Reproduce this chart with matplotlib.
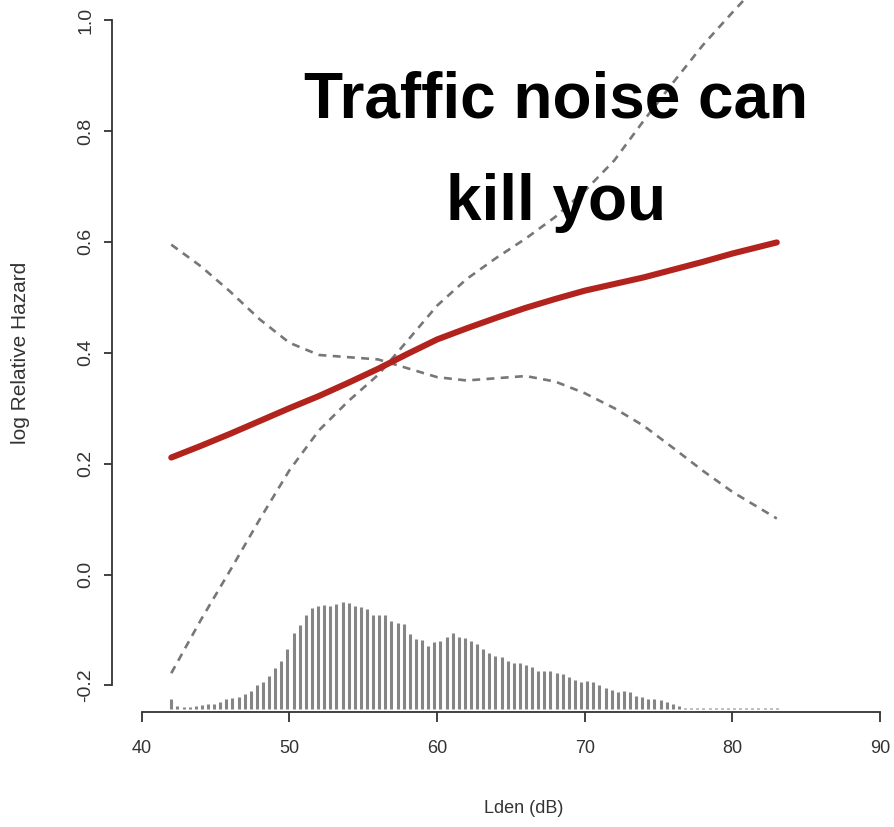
#Spline fit of log relative hazard vs road traffic noise, with spike histogram
import numpy as np
import matplotlib.pyplot as plt

plt.rcParams['font.family'] = ['Liberation Sans', 'DejaVu Sans']

#curve values read at these noise levels (dB)
lden = [42, 44, 46, 48, 50, 52, 54, 56, 58, 60, 62, 64, 66, 68, 70, 72, 74, 76, 78, 80, 83]
log_hr = [0.211, 0.232, 0.254, 0.277, 0.300, 0.322, 0.346, 0.371, 0.398, 0.424, 0.444,
          0.463, 0.481, 0.497, 0.512, 0.524, 0.536, 0.550, 0.564, 0.579, 0.599]
upper_ci = [-0.178, -0.082, 0.008, 0.100, 0.188, 0.260, 0.313, 0.360, 0.422, 0.485, 0.533,
            0.571, 0.606, 0.645, 0.692, 0.747, 0.819, 0.888, 0.955, 1.014, 1.10]
lower_ci = [0.595, 0.556, 0.510, 0.460, 0.418, 0.396, 0.392, 0.388, 0.372, 0.356, 0.350,
            0.354, 0.358, 0.348, 0.327, 0.300, 0.268, 0.228, 0.187, 0.149, 0.101]

#spike histogram of exposure, 100 bins from 42 to 83 dB (relative counts)
spike_lo, spike_hi = 42, 83
spike_counts = [10, 3, 2, 2.5, 3, 4, 5, 5, 7, 10,
                11, 12, 15, 18, 24, 27, 33, 41, 48, 60,
                76, 84, 94, 101, 103, 104, 103, 105, 107, 106,
                103, 102, 100, 94, 94, 94, 88, 86, 85, 75,
                70, 69, 63, 67, 68, 72, 76, 72, 71, 68,
                65, 60, 56, 53, 52, 48, 46, 46, 44, 42,
                38, 38, 38, 36, 35, 32, 29, 27, 28, 27,
                24, 21, 19, 17, 18, 17, 13, 12, 10, 10,
                9, 7, 5, 3, 1.5, 1.5, 1.5, 1.5, 1.5, 1.5,
                1.5, 1.5, 1.5, 1.5, 1.5, 1.5, 1.5, 1.5, 1.5, 1.5]

xticks = [40, 50, 60, 70, 80, 90]
yticks = [-0.2, 0.0, 0.2, 0.4, 0.6, 0.8, 1.0]

fig = plt.figure(figsize=(8.95, 8.27), dpi=100)
# axes runs a bit past the right and top edge, like the cropped R plot
ax = fig.add_axes([112.2/895, 115/827, 797.5/895, 718.5/827])
ax.set_xlim(38, 92)
ax.set_ylim(-0.248, 1.048)

#spikes
spike_x = np.linspace(spike_lo, spike_hi, len(spike_counts))
base = -0.243
scale = 0.194/max(spike_counts)
ax.vlines(spike_x, base, base + np.array(spike_counts)*scale, color='#858585', lw=2.2)

#curves
ax.plot(lden, upper_ci, color='#777777', lw=1.9, linestyle=(0, (3, 2.4)), dash_joinstyle='round')
ax.plot(lden, lower_ci, color='#777777', lw=1.9, linestyle=(0, (3, 2.4)), dash_joinstyle='round')
ax.plot(lden, log_hr, color='#b3231d', lw=4.4, solid_capstyle='round', solid_joinstyle='round')

#R style axes
for s in ['top', 'right']:
    ax.spines[s].set_visible(False)
ax.spines['left'].set_bounds(-0.2, 1.0)
ax.spines['bottom'].set_bounds(40, 90)
for s in ['left', 'bottom']:
    ax.spines[s].set_color('#333333')
    ax.spines[s].set_linewidth(1.3)
ax.set_xticks(xticks)
ax.set_yticks(yticks)
ax.set_yticklabels(['%.1f' % v for v in yticks], rotation=90, va='center')
ax.tick_params(axis='x', length=7, width=1.3, color='#333333', labelsize=13,
               labelcolor='#333333', pad=13)
ax.tick_params(axis='y', length=6, width=1.3, color='#333333', labelsize=14,
               labelcolor='#333333', pad=7)
ax.set_xlabel("Lden (dB)", fontsize=13, color='#333333')
ax.xaxis.set_label_coords(0.516, -0.122)
ax.set_ylabel("log Relative Hazard", fontsize=15, color='#333333', labelpad=34)

#headline
fig.text(556/895, 1 - 100/827, "Traffic noise can", fontsize=46, fontweight='bold',
         ha='center', va='center', color='black')
fig.text(556/895, 1 - 203/827, "kill you", fontsize=46, fontweight='bold',
         ha='center', va='center', color='black')

plt.savefig('out.png', dpi=100)
